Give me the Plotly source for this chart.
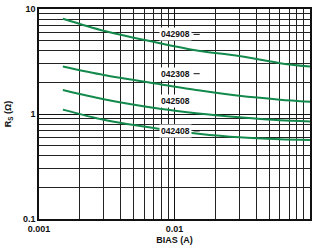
import plotly.graph_objects as go
import numpy as np

# Data
bias = [0.0015, 0.003, 0.0078, 0.015, 0.03, 0.06, 0.1]
rs_042908 = [8.07, 6.2, 4.72, 4.0, 3.57, 3.05, 2.83]
rs_042308 = [2.83, 2.35, 1.92, 1.68, 1.49, 1.37, 1.31]
rs_042508 = [1.69, 1.38, 1.12, 1.01, 0.93, 0.87, 0.85]
rs_042408 = [1.10, 0.88, 0.72, 0.65, 0.60, 0.575, 0.566]
series_names = ["042908", "042308", "042508", "042408"]
label_x = [0.0101, 0.0101, 0.0101, 0.0101]
label_y = [5.73, 2.42, 1.33, 0.69]
leader = [True, True, False, True]

x_ticks = [0.001, 0.01, 0.1]
x_ticktext = ["0.001", "0.01", "0.1"]
y_ticks = [0.1, 1, 10]
y_ticktext = ["0.1", "1", "10"]

green = "#138a4c"
fam = "Liberation Sans, Arial"
font = dict(family=fam, size=9, color="#111")

fig = go.Figure()
for name, ys in zip(series_names, [rs_042908, rs_042308, rs_042508, rs_042408]):
    fig.add_trace(go.Scatter(x=bias, y=ys, mode="lines", name=name,
                             line=dict(color=green, width=2, shape="spline", smoothing=0.8),
                             showlegend=False))

minor_x = [m * 10 ** e for e in (-3, -2) for m in range(2, 10)]
minor_y = [m * 10 ** e for e in (-1, 0) for m in range(2, 10)]

for name, lx, ly, ld in zip(series_names, label_x, label_y, leader):
    fig.add_annotation(x=np.log10(lx), y=np.log10(ly), text="<b>" + name + "</b>",
                       showarrow=False, xanchor="center", yanchor="middle",
                       bgcolor="white", borderpad=1,
                       font=dict(family=fam, size=8.5, color="#111"))
    if ld:
        fig.add_shape(type="line", xref="x", yref="y",
                      x0=lx * 1.37, x1=lx * 1.52, y0=ly, y1=ly,
                      line=dict(color="#111", width=1))

fig.update_xaxes(type="log", range=[-3, -1], tickvals=x_ticks,
                 ticktext=["<b>%s</b>" % t for t in x_ticktext],
                 showgrid=True, gridcolor="#111", gridwidth=1,
                 minor=dict(tickvals=minor_x, showgrid=True, gridcolor="#222", gridwidth=1, ticklen=0),
                 showline=True, linecolor="#111", linewidth=1.5, mirror=True,
                 ticks="", tickfont=dict(family=fam, size=9, color="#111"),
                 title=dict(text="<b>BIAS (A)</b>", font=dict(family=fam, size=9, color="#111"), standoff=4),
                 zeroline=False)
fig.update_yaxes(type="log", range=[-1, 1], tickvals=y_ticks,
                 ticktext=["<b>%s</b>" % t for t in y_ticktext],
                 showgrid=True, gridcolor="#111", gridwidth=1,
                 minor=dict(tickvals=minor_y, showgrid=True, gridcolor="#222", gridwidth=1, ticklen=0),
                 showline=True, linecolor="#111", linewidth=1.5, mirror=True,
                 ticks="", tickfont=dict(family=fam, size=9, color="#111"),
                 title=dict(text="<b>R<sub>S</sub> (Ω)</b>", font=dict(family=fam, size=9, color="#111"), standoff=10),
                 zeroline=False)

fig.update_layout(width=316, height=250, margin=dict(l=39, r=6, t=4, b=31),
                  paper_bgcolor="white", plot_bgcolor="white", font=font)
fig.write_html("out.html")
